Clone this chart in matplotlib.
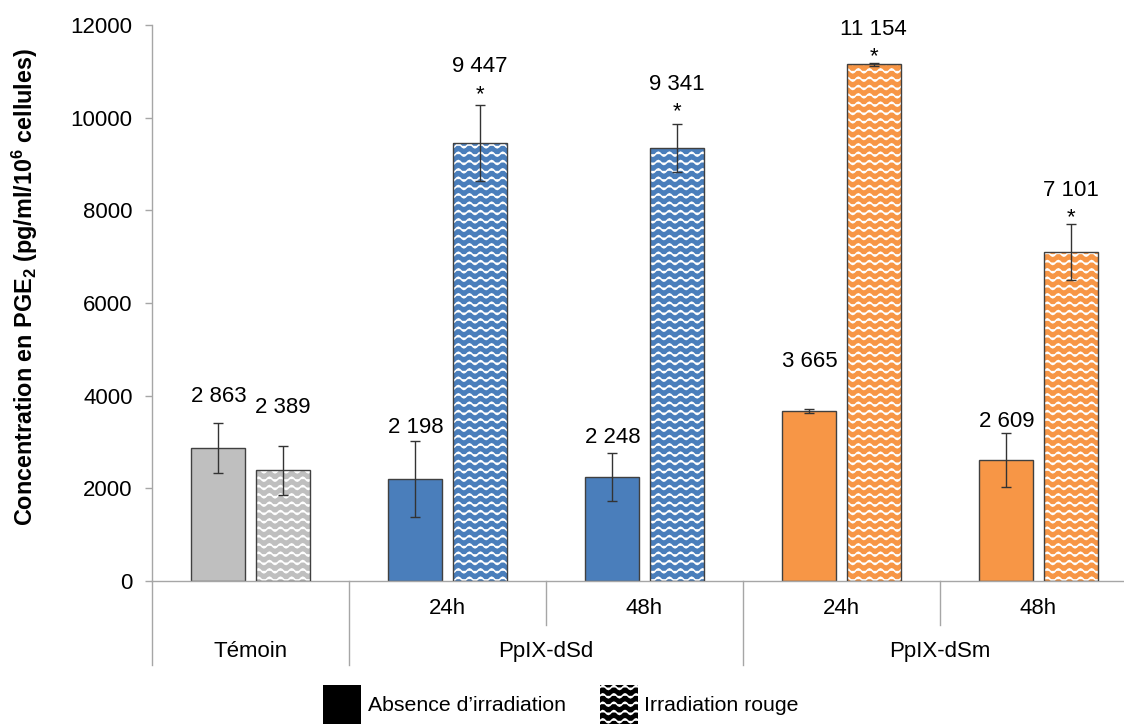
import warnings
warnings.filterwarnings('ignore')
import numpy as np
import matplotlib
matplotlib.use('Agg')
import matplotlib.pyplot as plt
from matplotlib import hatch as mhatch
from matplotlib.path import Path
from matplotlib.patches import Patch

# ---------------- data ----------------
sub_labels = ['', '24h', '48h', '24h', '48h']
main_groups = ['Témoin', 'PpIX-dSd', 'PpIX-dSm']
main_members = [[0], [1, 2], [3, 4]]
no_irr = [2863, 2198, 2248, 3665, 2609]
irr = [2389, 9447, 9341, 11154, 7101]
no_irr_err = [540, 820, 520, 40, 580]
irr_err = [530, 820, 520, 30, 600]
irr_sig = [False, True, True, True, True]
series_names = ['Absence d\u2019irradiation', 'Irradiation rouge']
yticks = [0, 2000, 4000, 6000, 8000, 10000, 12000]

# ---------------- style ----------------
bar_colors = ['#BFBFBF', '#4A7EBB', '#4A7EBB', '#F79646', '#F79646']
label_pad_no = [27, 14, 15, 48, 12]      # pixels above error-bar top
label_pad_irr = [38, 39, 40, 33, 34]
star_pad_irr = [0, 15, 16, 10, 11]
FS = 16

plt.rcParams['font.family'] = ['Liberation Sans', 'DejaVu Sans']
plt.rcParams['mathtext.fontset'] = 'custom'
plt.rcParams['mathtext.rm'] = 'Liberation Sans'
plt.rcParams['mathtext.bf'] = 'Liberation Sans:bold'
plt.rcParams['mathtext.it'] = 'Liberation Sans:italic'
plt.rcParams['hatch.linewidth'] = 1.1


class WaveHatch(mhatch.HatchPatternBase):
    ROWS = 12
    PERIODS = 9
    PTS = 8
    AMP = 0.02

    def __init__(self, hatch, density):
        n = hatch.count('w')
        self.rows = self.ROWS * n
        self.per_row = self.PERIODS * self.PTS + 1
        self.num_vertices = self.rows * self.per_row if n else 0

    def set_vertices_and_codes(self, vertices, codes):
        xs = np.linspace(0, 1, self.per_row)
        wave = self.AMP * np.sin(2 * np.pi * self.PERIODS * xs)
        steps = (np.arange(self.rows) + 0.5) / self.rows
        for i, s in enumerate(steps):
            sl = slice(i * self.per_row, (i + 1) * self.per_row)
            vertices[sl, 0] = xs
            vertices[sl, 1] = s + wave
            codes[sl] = Path.LINETO
            codes[i * self.per_row] = Path.MOVETO


mhatch._hatch_types.append(WaveHatch)

fig = plt.figure(figsize=(11.24, 7.24), dpi=100)
ax = fig.add_axes([152 / 1124, 0.1975, 985 / 1124, 556 / 724])

x = np.arange(len(no_irr))
w = 0.275
off = 0.163
edge = '#404040'

ax.bar(x - off, no_irr, w, color=bar_colors, edgecolor=edge, linewidth=1, zorder=2)
ax.bar(x + off, irr, w, color=bar_colors, edgecolor='white', linewidth=0, hatch='w', zorder=2)
ax.bar(x + off, irr, w, fill=False, edgecolor=edge, linewidth=1, zorder=3)
ax.errorbar(x - off, no_irr, yerr=no_irr_err, fmt='none', ecolor='#333333',
            elinewidth=1, capsize=3.8, capthick=1, zorder=4)
ax.errorbar(x + off, irr, yerr=irr_err, fmt='none', ecolor='#333333',
            elinewidth=1, capsize=3.8, capthick=1, zorder=4)


def fmt(v):
    return f"{v:,}".replace(',', ' ')


for i in range(len(x)):
    top = no_irr[i] + no_irr_err[i]
    ax.annotate(fmt(no_irr[i]), xy=(x[i] - off, top), xytext=(0, label_pad_no[i]),
                textcoords='offset pixels', ha='center', va='center', fontsize=FS)
    top = irr[i] + irr_err[i]
    ax.annotate(fmt(irr[i]), xy=(x[i] + off, top), xytext=(0, label_pad_irr[i]),
                textcoords='offset pixels', ha='center', va='center', fontsize=FS)
    if irr_sig[i]:
        ax.annotate('*', xy=(x[i] + off, top), xytext=(0, star_pad_irr[i] - 4),
                    textcoords='offset pixels', ha='center', va='center', fontsize=FS)

ax.set_xlim(-0.5, len(x) - 0.5)
ax.set_ylim(0, 12000)
ax.set_yticks(yticks)
ax.set_yticklabels([str(t) for t in yticks])
ax.set_xticks([])
for s in ['top', 'right']:
    ax.spines[s].set_visible(False)
for s in ['left', 'bottom']:
    ax.spines[s].set_color('#A6A6A6')
    ax.spines[s].set_linewidth(1)
ax.tick_params(axis='y', colors='#A6A6A6', length=5, width=1, labelsize=FS,
               labelcolor='black', pad=9)

ax.set_ylabel(r'Concentration en PGE$_\mathbf{2}$ (pg/ml/10$^\mathbf{6}$ cellules)',
              fontweight='bold', fontsize=16.8)
ax.yaxis.set_label_coords(-0.114, 0.528)

# category axis (two levels)
tr = ax.get_xaxis_transform()
y_sub, y_main = -0.050, -0.126
y_short, y_long = -0.079, -0.151
for i, lab in enumerate(sub_labels):
    if lab:
        ax.text(x[i], y_sub, lab, transform=tr, ha='center', va='center', fontsize=FS)
for name, mem in zip(main_groups, main_members):
    c = (x[mem[0]] + x[mem[-1]]) / 2
    ax.text(c, y_main, name, transform=tr, ha='center', va='center', fontsize=FS)
    left = x[mem[0]] - 0.5
    ax.plot([left, left], [0, y_long], transform=tr, color='#A6A6A6', lw=1, clip_on=False)
    for k in mem[1:]:
        b = x[k] - 0.5
        ax.plot([b, b], [0, y_short], transform=tr, color='#A6A6A6', lw=1, clip_on=False)
end = x[-1] + 0.5
ax.plot([end, end], [0, y_long], transform=tr, color='#A6A6A6', lw=1, clip_on=False)

handles = [Patch(facecolor='black', edgecolor='black', linewidth=0),
           Patch(facecolor='black', edgecolor='white', linewidth=0, hatch='w')]
fig.legend(handles, series_names, loc='lower center', bbox_to_anchor=(0.499, -0.026),
           ncol=2, frameon=False, fontsize=15.3, handlelength=1.8, handleheight=2.4,
           handletextpad=0.3, columnspacing=1.6)

fig.savefig('out.png', dpi=100)
